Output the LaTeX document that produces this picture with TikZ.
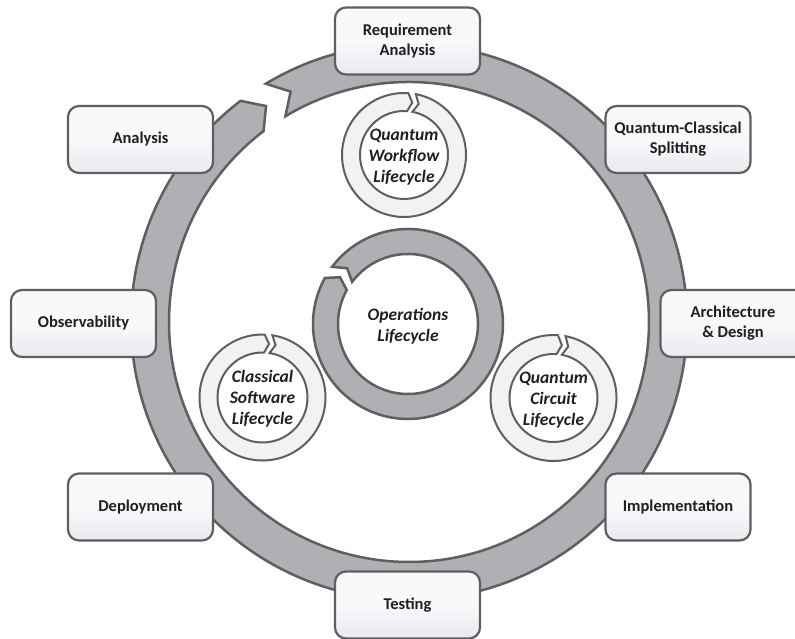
\documentclass[tikz,border=0pt]{standalone}
\usepackage{fontspec}
\setmainfont{Carlito}
\usepackage{tikz}
\usepackage{xcolor}

\definecolor{ringgray}{RGB}{175,176,180}
\definecolor{edgegray}{RGB}{95,95,95}
\definecolor{ringlight}{RGB}{242,242,245}
\definecolor{boxtop}{RGB}{248,249,251}
\definecolor{boxbot}{RGB}{233,234,237}

\tikzset{
    phase/.style={draw=edgegray, line width=2.2pt, rounded corners=11pt,
        top color=boxtop, bottom color=boxbot, middle color=boxtop,
        minimum width=145pt, minimum height=67pt, align=center,
        font=\fontsize{16.5}{20}\selectfont\bfseries, text=black!88},
    bigring/.style={fill=ringgray, draw=edgegray, line width=2.5pt},
    smallring/.style={fill=ringlight, draw=edgegray, line width=2pt},
    cyclelabel/.style={align=center,
        font=\fontsize{17.5}{21}\selectfont\bfseries\itshape, text=black!88}
}

% ring with a chevron head and a notched tail
% #1 style, #2 centre, #3 r in, #4 r out, #5 tail angle, #6 head angle, #7 depth
\newcommand{\chevring}[7]{%
    \path[#1,shift={(#2)}]
        ({#5}:{#4}) arc[start angle={#5}, end angle={#6-360}, radius={#4}]
        -- ({#6-#7-360}:{(#3+#4)/2}) -- ({#6-360}:{#3})
        arc[start angle={#6-360}, end angle={#5}, radius={#3}]
        -- ({#5-#7}:{(#3+#4)/2}) -- cycle;
}

\begin{document}
\begin{tikzpicture}[x=1pt,y=1pt]
        \clip (0,0) rectangle (795,639);
    % Outer lifecycle
        \chevring{bigring}{409,317}{240}{278}{121}{127.3}{3.8}
    % Phases
        \node[phase] (req) at (407.5,598) {Requirement\\Analysis};
        \node[phase] (split) at (678,499.5) {Quantum-Classical\\Splitting};
        \node[phase] (arch) at (733,315.5) {Architecture\\\& Design};
        \node[phase] (impl) at (678,132) {Implementation};
        \node[phase] (test) at (407.5,34) {Testing};
        \node[phase] (deploy) at (140.5,132) {Deployment};
        \node[phase] (observ) at (83.5,315.5) {Observability};
        \node[phase] (analysis) at (140.5,499.5) {Analysis};
    % Operations lifecycle
        \chevring{bigring}{408,315}{70}{95}{143}{151}{5.5}
        \node[cyclelabel] (ops) at (408,313) {Operations\\Lifecycle};
    % Sub lifecycles
        \chevring{smallring}{404,484}{44}{62}{79}{86}{5}
        \node[cyclelabel] (workflow) at (404,482) {Quantum\\Workflow\\Lifecycle};
        \chevring{smallring}{262.5,241.5}{45}{63}{81}{88}{5}
        \node[cyclelabel] (classical) at (262.5,240) {Classical\\Software\\Lifecycle};
        \chevring{smallring}{553.5,241}{44}{63}{79}{86}{5}
        \node[cyclelabel] (circuit) at (553.5,239) {Quantum\\Circuit\\Lifecycle};
\end{tikzpicture}
\end{document}
